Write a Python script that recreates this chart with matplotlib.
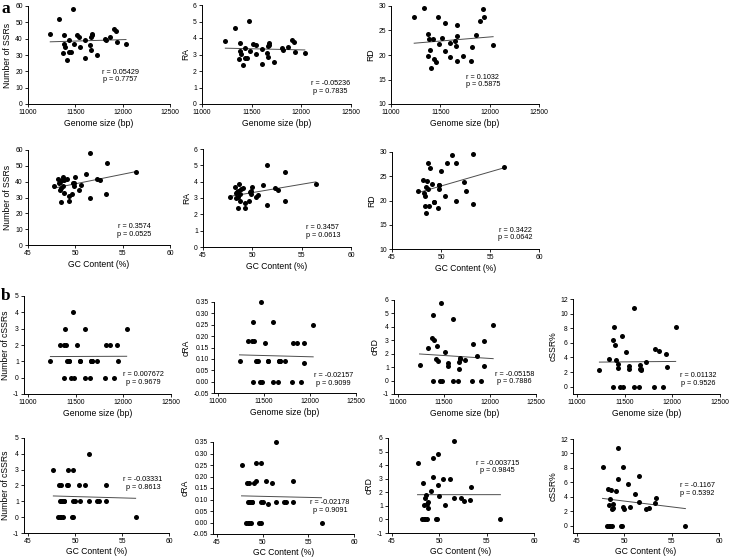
import numpy as np
import matplotlib.pyplot as plt
from matplotlib.ticker import FormatStrFormatter

plt.rcParams['font.family'] = ['Liberation Sans', 'DejaVu Sans']
plt.rcParams['axes.unicode_minus'] = False

# ============================================================
#  Per-genome values (30 genomes)
# ============================================================
genome_size = [11235, 11332, 11373, 11379, 11383, 11396, 11410, 11430, 11432, 11453,
               11473, 11483, 11517, 11544, 11546, 11601, 11603, 11650, 11661, 11671,
               11672, 11664, 11725, 11809, 11819, 11862, 11906, 11930, 11940, 12035]
gc_content = [48.65, 53.3, 49.3, 48.2, 49.83, 50.4, 48.5, 49.83, 53.28, 49.66,
              51.5, 48.7, 49.1, 48.85, 48.38, 49.8, 49.3, 48.5, 52.57, 50.0,
              52.3, 48.8, 51.5, 48.4, 48.3, 48.55, 56.45, 51.08, 50.57, 47.7]
n_ssr = [43, 52, 31, 42, 37, 35, 27, 39, 32, 32, 58, 37, 42, 41, 35,
         39, 28, 36, 41, 43, 42, 33, 30, 40, 39, 41, 46, 45, 38, 37]
ra = [3.83, 4.60, 2.70, 3.69, 3.24, 3.06, 2.36, 3.40, 2.80, 2.79,
      5.05, 3.22, 3.64, 3.55, 3.03, 3.35, 2.41, 3.09, 3.51, 3.68,
      3.59, 2.83, 2.56, 3.39, 3.30, 3.45, 3.87, 3.78, 3.18, 3.08]
rd = [27.7, 29.6, 19.7, 24.2, 23.2, 21.0, 17.4, 23.2, 19.2, 18.5,
      27.7, 22.3, 23.5, 26.6, 20.9, 22.4, 19.6, 22.8, 21.9, 26.1,
      23.9, 18.8, 19.8, 18.8, 21.6, 24.0, 26.9, 29.3, 27.7, 22.0]
n_cssr = [1, 2, 2, 0, 3, 2, 1, 1, 1, 0, 4, 0, 2, 1, 1,
          0, 3, 0, 1, 1, 1, 1, 1, 0, 2, 2, 0, 2, 1, 3]
cra = [0.09, 0.18, 0.18, 0.0, 0.26, 0.18, 0.09, 0.09, 0.09, 0.0,
       0.35, 0.0, 0.17, 0.09, 0.09, 0.0, 0.26, 0.0, 0.09, 0.09,
       0.09, 0.09, 0.09, 0.0, 0.17, 0.17, 0.0, 0.17, 0.08, 0.25]
crd = [1.15, 2.4, 3.15, 0.0, 4.85, 3.0, 1.6, 2.55, 1.45, 0.0,
       5.8, 0.0, 2.1, 1.3, 1.05, 0.0, 4.55, 0.0, 1.35, 1.7,
       1.6, 0.85, 1.55, 0.0, 2.7, 1.8, 0.0, 2.95, 1.1, 4.15]
cssr_pct = [2.33, 3.85, 6.45, 0.0, 8.11, 5.71, 3.70, 2.56, 3.13, 0.0,
            6.90, 0.0, 4.76, 2.44, 2.86, 0.0, 10.71, 0.0, 2.44, 2.33,
            2.38, 3.03, 3.33, 0.0, 5.13, 4.88, 0.0, 4.44, 2.63, 8.11]

# r / p values printed on each panel
stats_a_size = [("0.05429", "0.7757"), ("-0.05236", "0.7835"), ("0.1032", "0.5875")]
stats_a_gc = [("0.3574", "0.0525"), ("0.3457", "0.0613"), ("0.3422", "0.0642")]
stats_b_size = [("0.007672", "0.9679"), ("-0.02157", "0.9099"),
                ("-0.05158", "0.7886"), ("0.01132", "0.9526")]
stats_b_gc = [("-0.03331", "0.8613"), ("-0.02178", "0.9091"),
              ("-0.003715", "0.9845"), ("-0.1167", "0.5392")]

size_ticks = [11000, 11500, 12000, 12500]
gc_ticks = [45, 50, 55, 60]

W, H = 730, 558
fig = plt.figure(figsize=(W / 100, H / 100), dpi=100)


def px_axes(left, right, top, bottom):
    return fig.add_axes([left / W, 1 - bottom / H, (right - left) / W, (bottom - top) / H])


def panel(box, x, y, xlim, xticks, yticks, xlabel, ylabel, stats, txt_xy, yfmt=None, xpad=2):
    ax = px_axes(*box)
    ax.scatter(x, y, s=13, c="black", linewidths=0, zorder=3, clip_on=False)
    k, b = np.polyfit(x, y, 1)
    xs = np.array([min(x), max(x)])
    ax.plot(xs, k * xs + b, color="#4d4d4d", lw=0.7, zorder=2)

    ax.set_xlim(*xlim)
    ax.set_ylim(yticks[0], yticks[-1])
    ax.set_xticks(xticks)
    ax.set_yticks(yticks)
    if yfmt:
        ax.yaxis.set_major_formatter(FormatStrFormatter(yfmt))
    for s in ("top", "right"):
        ax.spines[s].set_visible(False)
    for s in ("left", "bottom"):
        ax.spines[s].set_linewidth(0.7)
    ax.tick_params(direction="out", length=2.5, width=0.6, labelsize=4.9, pad=1.2)
    ax.set_xlabel(xlabel, fontsize=6.2, labelpad=xpad)
    ax.set_ylabel(ylabel, fontsize=6.2, labelpad=2)
    ax.text(txt_xy[0], txt_xy[1], "r = %s\np = %s" % stats, transform=ax.transAxes,
            fontsize=5.2, ha="center", va="center", linespacing=1.15)
    return ax


# ---------------- a: genome size ----------------
size_lim = (11000, 12500)
panel((28, 170, 6, 104), genome_size, n_ssr, size_lim, size_ticks, list(range(0, 61, 10)),
      "Genome size (bp)", "Number of SSRs", stats_a_size[0], (0.65, 0.285))
panel((202, 351, 5, 104), genome_size, ra, size_lim, size_ticks, list(range(0, 7)),
      "Genome size (bp)", "RA", stats_a_size[1], (0.86, 0.17))
panel((391, 539, 6, 104), genome_size, rd, size_lim, size_ticks, list(range(10, 31, 5)),
      "Genome size (bp)", "RD", stats_a_size[2], (0.62, 0.235))

# ---------------- a: GC content ----------------
gc_lim = (45, 60)
panel((28, 170, 150, 245), gc_content, n_ssr, gc_lim, gc_ticks, list(range(0, 61, 10)),
      "GC Content (%)", "Number of SSRs", stats_a_gc[0], (0.75, 0.15))
panel((203, 351, 149, 247), gc_content, ra, gc_lim, gc_ticks, list(range(0, 7)),
      "GC Content (%)", "RA", stats_a_gc[1], (0.81, 0.155))
panel((392, 539, 152, 249), gc_content, rd, gc_lim, gc_ticks, list(range(10, 31, 5)),
      "GC Content (%)", "RD", stats_a_gc[2], (0.84, 0.155))

# ---------------- b: genome size ----------------
size_lim_b = (10958, 12500)
cra_ticks = [-0.05, 0.0, 0.05, 0.10, 0.15, 0.20, 0.25, 0.30, 0.35]
panel((24, 171, 296, 394), genome_size, n_cssr, size_lim_b, size_ticks, list(range(-1, 6)),
      "Genome size (bp)", "Number of cSSRs", stats_b_size[0], (0.81, 0.16))
panel((214, 356, 302, 393), genome_size, cra, size_lim_b, size_ticks, cra_ticks,
      "Genome size (bp)", "cRA", stats_b_size[1], (0.84, 0.145), yfmt="%.2f")
panel((394, 536, 300, 394), genome_size, crd, size_lim_b, size_ticks, list(range(-1, 7)),
      "Genome size (bp)", "cRD", stats_b_size[2], (0.85, 0.17))
ax = panel((573, 720, 299, 394), genome_size, cssr_pct, size_lim_b, size_ticks, list(range(0, 13, 2)),
           "Genome size (bp)", "cSSR%", stats_b_size[3], (0.85, 0.15))
ax.set_ylim(-1, 12)

# ---------------- b: GC content ----------------
gc_lim_b = (44.58, 60)
panel((24, 169, 438, 533), gc_content, n_cssr, gc_lim_b, gc_ticks, list(range(-1, 6)),
      "GC Content (%)", "Number of cSSRs", stats_b_gc[0], (0.82, 0.52), xpad=1)
panel((213, 354, 442, 534), gc_content, cra, gc_lim_b, gc_ticks, cra_ticks,
      "GC Content (%)", "cRA", stats_b_gc[1], (0.83, 0.30), yfmt="%.2f", xpad=1)
panel((388, 534, 438, 533), gc_content, crd, gc_lim_b, gc_ticks, list(range(-1, 7)),
      "GC Content (%)", "cRD", stats_b_gc[2], (0.75, 0.695), xpad=1)
ax = panel((573, 719, 439, 533), gc_content, cssr_pct, gc_lim_b, gc_ticks, list(range(0, 13, 2)),
           "GC Content (%)", "cSSR%", stats_b_gc[3], (0.85, 0.46), xpad=1)
ax.set_ylim(-1, 12)

# panel letters
fig.text(1 / W, 1 - 1 / H, "a", fontsize=12.5, fontweight="bold",
         family="Liberation Serif", va="top", ha="left")
fig.text(1 / W, 1 - 288 / H, "b", fontsize=12.5, fontweight="bold",
         family="Liberation Serif", va="top", ha="left")

fig.savefig("out.png", dpi=100)
